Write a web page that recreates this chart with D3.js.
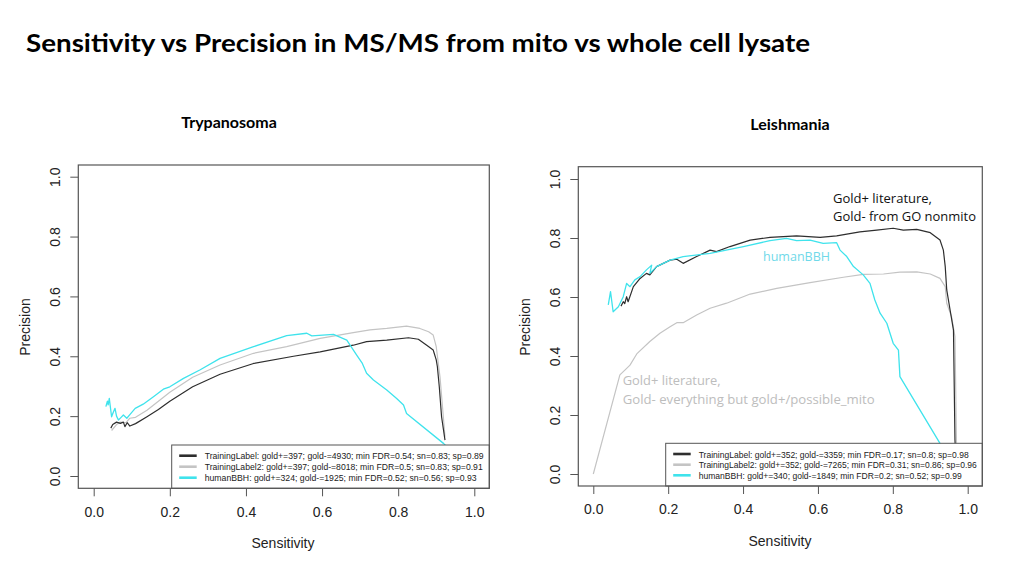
<!DOCTYPE html>
<html><head><meta charset="utf-8">
<script src="https://cdn.jsdelivr.net/npm/d3@7"></script>
<style>body{margin:0;background:#fff}svg{display:block}</style>
</head><body>
<script>
// ---------- data ----------
const tickValues = [0, 0.2, 0.4, 0.6, 0.8, 1.0];
const seriesNames = ["TrainingLabel", "TrainingLabel2", "humanBBH"];

const trypLegend = [
  "TrainingLabel: gold+=397; gold-=4930; min FDR=0.54; sn=0.83; sp=0.89",
  "TrainingLabel2: gold+=397; gold-=8018; min FDR=0.5; sn=0.83; sp=0.91",
  "humanBBH: gold+=324; gold-=1925; min FDR=0.52; sn=0.56; sp=0.93"
];
const leishLegend = [
  "TrainingLabel: gold+=352; gold-=3359; min FDR=0.17; sn=0.8; sp=0.98",
  "TrainingLabel2: gold+=352; gold-=7265; min FDR=0.31; sn=0.86; sp=0.96",
  "humanBBH: gold+=340; gold-=1849; min FDR=0.2; sn=0.52; sp=0.99"
];

// [sensitivity, precision]
const trypTL = [[0.045,0.160],[0.050,0.172],[0.060,0.180],[0.070,0.176],[0.078,0.180],[0.082,0.165],[0.088,0.178],[0.095,0.167],[0.110,0.175],[0.140,0.198],[0.170,0.222],[0.200,0.250],[0.260,0.298],[0.332,0.340],[0.420,0.376],[0.525,0.400],[0.595,0.415],[0.682,0.437],[0.717,0.449],[0.770,0.454],[0.827,0.462],[0.853,0.457],[0.875,0.437],[0.892,0.421],[0.900,0.388],[0.903,0.365],[0.908,0.298],[0.914,0.198],[0.923,0.120]];
const trypTL2 = [[0.047,0.152],[0.060,0.172],[0.070,0.180],[0.085,0.178],[0.095,0.193],[0.110,0.196],[0.140,0.220],[0.200,0.280],[0.260,0.330],[0.332,0.371],[0.420,0.410],[0.507,0.432],[0.595,0.460],[0.682,0.479],[0.726,0.488],[0.770,0.493],[0.822,0.501],[0.857,0.493],[0.880,0.482],[0.892,0.471],[0.900,0.432],[0.910,0.330],[0.923,0.131]];
const trypBBH = [[0.032,0.232],[0.036,0.250],[0.038,0.238],[0.041,0.259],[0.047,0.198],[0.052,0.215],[0.056,0.226],[0.060,0.200],[0.065,0.187],[0.072,0.196],[0.078,0.204],[0.087,0.193],[0.095,0.205],[0.109,0.226],[0.130,0.240],[0.157,0.265],[0.183,0.290],[0.200,0.298],[0.236,0.326],[0.280,0.355],[0.332,0.393],[0.420,0.432],[0.507,0.469],[0.560,0.477],[0.573,0.468],[0.630,0.473],[0.665,0.454],[0.691,0.404],[0.705,0.378],[0.717,0.343],[0.735,0.321],[0.770,0.287],[0.796,0.259],[0.814,0.237],[0.822,0.209],[0.919,0.109],[0.950,0.070]];

const leishTL = [[0.074,0.569],[0.080,0.584],[0.084,0.578],[0.089,0.601],[0.093,0.584],[0.107,0.635],[0.125,0.663],[0.142,0.680],[0.151,0.675],[0.169,0.703],[0.205,0.725],[0.223,0.728],[0.240,0.714],[0.276,0.737],[0.312,0.759],[0.329,0.754],[0.365,0.771],[0.419,0.793],[0.472,0.802],[0.543,0.807],[0.606,0.802],[0.650,0.807],[0.712,0.821],[0.757,0.827],[0.801,0.833],[0.828,0.827],[0.864,0.829],[0.900,0.818],[0.926,0.793],[0.935,0.759],[0.940,0.703],[0.944,0.624],[0.953,0.556],[0.962,0.488],[0.966,0.115],[0.970,0.000]];
const leishTL2 = [[0.000,0.000],[0.071,0.336],[0.085,0.353],[0.098,0.369],[0.116,0.407],[0.151,0.449],[0.178,0.477],[0.205,0.499],[0.223,0.513],[0.240,0.513],[0.276,0.539],[0.312,0.562],[0.356,0.579],[0.419,0.610],[0.490,0.629],[0.579,0.649],[0.668,0.667],[0.721,0.677],[0.775,0.678],[0.819,0.684],[0.864,0.685],[0.900,0.678],[0.926,0.663],[0.940,0.635],[0.944,0.579],[0.957,0.533],[0.966,0.466],[0.970,0.104],[0.972,0.000]];
const leishBBH = [[0.040,0.573],[0.046,0.618],[0.053,0.550],[0.067,0.567],[0.080,0.601],[0.089,0.646],[0.098,0.635],[0.111,0.658],[0.125,0.669],[0.142,0.692],[0.156,0.708],[0.151,0.680],[0.169,0.703],[0.205,0.725],[0.240,0.737],[0.312,0.748],[0.401,0.771],[0.472,0.791],[0.516,0.799],[0.543,0.791],[0.579,0.793],[0.614,0.782],[0.650,0.784],[0.659,0.759],[0.677,0.737],[0.695,0.703],[0.721,0.675],[0.739,0.646],[0.752,0.590],[0.766,0.545],[0.784,0.511],[0.801,0.443],[0.815,0.420],[0.819,0.330],[0.926,0.104],[0.960,0.040]];

const colors = ["#2e2e2e", "#c4c4c4", "#3fe3ec"];

// ---------- drawing ----------
const svg = d3.select("body").append("svg").attr("width", 1024).attr("height", 576);

svg.append("text").attr("x", 26).attr("y", 52)
  .attr("font-family", "Lato, 'Open Sans', sans-serif").attr("font-weight", "bold")
  .attr("font-size", 24).attr("fill", "#000")
  .attr("textLength", 784).attr("lengthAdjust", "spacingAndGlyphs")
  .text("Sensitivity vs Precision in MS/MS from mito vs whole cell lysate");

const panels = [
  {title: "Trypanosoma", tx: 229, ty: 128, box: [78.3, 165, 489.3, 488.3], xr: [93.7, 474.3], yr: [476, 176.7],
   series: [trypTL, trypTL2, trypBBH], legend: trypLegend, leg: [171.7, 445], legY: [455.7, 466.7, 477.7],
   legW: [279, 278, 272], xlabY: 543, xlabX: 283, ylabX: 25, ylabY: 327, ytx: 55, xty: 512},
  {title: "Leishmania", tx: 790, ty: 130, box: [578.3, 166.7, 982.3, 486], xr: [593.3, 967.7], yr: [474, 179],
   series: [leishTL, leishTL2, leishBBH], legend: leishLegend, leg: [665.7, 443.3], legY: [454, 464.7, 475.3],
   legW: [270, 278, 263], xlabY: 541, xlabX: 780, ylabX: 525, ylabY: 327, ytx: 555, xty: 509}
];

panels.forEach((p, pi) => {
  const g = svg.append("g");
  const [bx0, by0, bx1, by1] = p.box;
  const x = d3.scaleLinear().domain([0, 1]).range(p.xr);
  const y = d3.scaleLinear().domain([0, 1]).range(p.yr);

  g.append("text").attr("x", p.tx).attr("y", p.ty).attr("text-anchor", "middle")
    .attr("font-family", "Lato, 'Open Sans', sans-serif").attr("font-weight", "bold").attr("font-size", 16)
    .text(p.title);

  const clipId = "clip" + pi;
  g.append("clipPath").attr("id", clipId).append("rect")
    .attr("x", bx0).attr("y", by0).attr("width", bx1 - bx0).attr("height", by1 - by0);

  // x axis
  const xa = g.append("g").attr("transform", `translate(0,${by1})`)
    .call(d3.axisBottom(x).tickValues(tickValues).tickFormat(d3.format(".1f")).tickSize(8).tickPadding(10));
  xa.select(".domain").remove();
  xa.selectAll("line").attr("stroke", "#555");
  xa.selectAll("text").attr("font-family", "'Liberation Sans', Arial, sans-serif").attr("font-size", 14).attr("fill", "#222")
    .attr("y", null).attr("dy", null).attr("transform", `translate(0,${p.xty - by1 + 5})`);

  // y axis
  const ya = g.append("g").attr("transform", `translate(${bx0},0)`)
    .call(d3.axisLeft(y).tickValues(tickValues).tickFormat(d3.format(".1f")).tickSize(8));
  ya.select(".domain").remove();
  ya.selectAll("line").attr("stroke", "#555");
  ya.selectAll("text").attr("font-family", "'Liberation Sans', Arial, sans-serif").attr("font-size", 14).attr("fill", "#222")
    .attr("x", null).attr("dy", null).attr("text-anchor", "middle")
    .attr("transform", `translate(${p.ytx - bx0 + 5},0) rotate(-90)`);

  // series
  const line = d3.line().x(d => x(d[0])).y(d => y(d[1]));
  const sg = g.append("g").attr("clip-path", `url(#${clipId})`);
  [1, 0, 2].forEach(i => {
    sg.append("path").datum(p.series[i]).attr("d", line)
      .attr("fill", "none").attr("stroke", colors[i]).attr("stroke-width", i === 2 ? 1.3 : 1.2)
      .attr("stroke-linejoin", "round");
  });

  // legend
  const lg = g.append("g");
  lg.append("rect").attr("x", p.leg[0]).attr("y", p.leg[1])
    .attr("width", bx1 - p.leg[0]).attr("height", by1 - p.leg[1])
    .attr("fill", "#fff").attr("stroke", "#555").attr("stroke-width", 1);
  p.legend.forEach((t, i) => {
    lg.append("line").attr("x1", p.leg[0] + 7.5).attr("x2", p.leg[0] + 25)
      .attr("y1", p.legY[i]).attr("y2", p.legY[i]).attr("stroke", colors[i]).attr("stroke-width", 2.6);
    lg.append("text").attr("x", p.leg[0] + 33).attr("y", p.legY[i] + 3.5)
      .attr("font-family", "'Liberation Sans', Arial, sans-serif").attr("font-size", 9.5).attr("fill", "#222")
      .attr("textLength", p.legW[i]).attr("lengthAdjust", "spacingAndGlyphs").text(t);
  });

  // box
  g.append("rect").attr("x", bx0).attr("y", by0).attr("width", bx1 - bx0).attr("height", by1 - by0)
    .attr("fill", "none").attr("stroke", "#555").attr("stroke-width", 1.2);

  // axis titles
  g.append("text").attr("x", p.xlabX).attr("y", p.xlabY + 5).attr("text-anchor", "middle")
    .attr("font-family", "'Liberation Sans', Arial, sans-serif").attr("font-size", 14).attr("fill", "#222")
    .text("Sensitivity");
  g.append("text").attr("transform", `translate(${p.ylabX + 5},${p.ylabY}) rotate(-90)`).attr("text-anchor", "middle")
    .attr("font-family", "'Liberation Sans', Arial, sans-serif").attr("font-size", 14).attr("fill", "#222")
    .text("Precision");
});

// annotations on Leishmania panel
const annFont = "'Open Sans', Lato, sans-serif";
const ann = [
  {t: "Gold+ literature,", x: 833, y: 203, w: 99, c: "#111"},
  {t: "Gold- from GO nonmito", x: 833, y: 221, w: 143, c: "#111"},
  {t: "humanBBH", x: 763, y: 261, w: 67, c: "#6fd9e9"},
  {t: "Gold+ literature,", x: 622.7, y: 385, w: 98, c: "#bdbdbd"},
  {t: "Gold- everything but gold+/possible_mito", x: 622.7, y: 403.5, w: 252, c: "#bdbdbd"}
];
ann.forEach(a => {
  svg.append("text").attr("x", a.x).attr("y", a.y).attr("font-family", annFont).attr("font-size", 12.5)
    .attr("fill", a.c).attr("textLength", a.w).attr("lengthAdjust", "spacingAndGlyphs").text(a.t);
});
</script>
</body></html>
